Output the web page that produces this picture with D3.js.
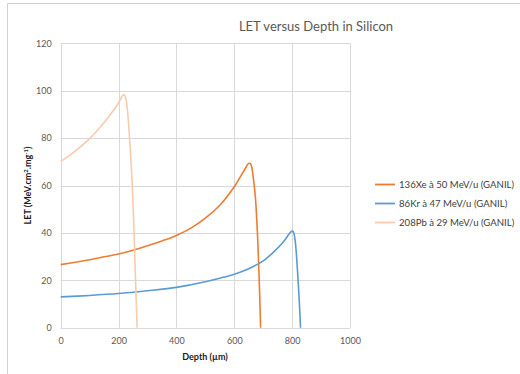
<!DOCTYPE html>
<html>
<head>
<meta charset="utf-8">
<script src="https://cdn.jsdelivr.net/npm/d3@7"></script>
<style>
  html, body { margin: 0; padding: 0; background: #fff; }
  svg { display: block; }
  text { font-family: Lato, "Open Sans", sans-serif; }
</style>
</head>
<body>
<svg id="chart" width="520" height="374"></svg>
<script>
// Depth (µm) and LET (MeV.cm².mg⁻¹) for each ion beam
const xeDepth = [0, 50, 100, 150, 200, 250, 300, 350, 400, 450, 500, 550, 600, 625, 640, 646, 651, 656, 660, 664, 668, 672, 676, 680, 684, 688, 691];
const xeLet   = [26.6, 27.6, 28.7, 29.9, 31.1, 32.7, 34.6, 36.6, 38.9, 42, 46.2, 51.7, 59.5, 64.5, 67.6, 68.9, 69.4, 69.2, 68, 65, 61, 56.5, 49.5, 40, 28, 13, 0];

const krDepth = [0, 100, 200, 300, 400, 450, 500, 550, 600, 650, 700, 740, 770, 790, 797, 801, 805, 809, 812, 815, 818, 822, 826, 829];
const krLet   = [13, 13.6, 14.4, 15.6, 17, 18.1, 19.4, 20.9, 22.6, 24.9, 28.2, 32.4, 36.3, 39.6, 40.6, 40.8, 40.2, 38, 35, 30.5, 25, 17, 8, 0];

const pbDepth = [0, 25, 50, 75, 100, 125, 150, 175, 200, 208, 213, 218, 223, 227, 231, 235, 239, 243, 247, 250, 253, 256, 259, 262, 264];
const pbLet   = [70.2, 72.2, 74.5, 77, 79.8, 83, 86.6, 90.5, 94.8, 96.8, 97.9, 98.3, 97.6, 95.5, 91.5, 85.5, 78, 70, 61, 53, 42, 31, 19, 8, 0];

const seriesNames  = ["136Xe à 50 MeV/u (GANIL)", "86Kr à 47 MeV/u (GANIL)", "208Pb à 29 MeV/u (GANIL)"];
const seriesColors = ["#ED7D31", "#5B9BD5", "#F8CBAD"];

const xTicks = [0, 200, 400, 600, 800, 1000];
const yTicks = [0, 20, 40, 60, 80, 100, 120];

const series = [
  { name: seriesNames[0], color: seriesColors[0], pts: xeDepth.map((d, i) => [d, xeLet[i]]) },
  { name: seriesNames[1], color: seriesColors[1], pts: krDepth.map((d, i) => [d, krLet[i]]) },
  { name: seriesNames[2], color: seriesColors[2], pts: pbDepth.map((d, i) => [d, pbLet[i]]) }
];

const svg = d3.select("#chart");
const plot = { left: 60.7, right: 350, top: 43.3, bottom: 327.7 };

const x = d3.scaleLinear().domain([0, 1000]).range([plot.left, plot.right]);
const y = d3.scaleLinear().domain([0, 120]).range([plot.bottom, plot.top]);

// chart frame (top and left edges)
svg.append("path")
  .attr("d", "M7.5,380 V3.5 H530")
  .attr("fill", "none")
  .attr("stroke", "#d0d0d0")
  .attr("stroke-width", 1);

// title
svg.append("text")
  .attr("x", 316).attr("y", 31)
  .attr("text-anchor", "middle")
  .attr("font-size", 13)
  .attr("fill", "#595959")
  .text("LET versus Depth in Silicon");

// gridlines
const grid = svg.append("g").attr("stroke", "#d9d9d9").attr("stroke-width", 1);
grid.selectAll("line.v").data(xTicks).join("line")
  .attr("x1", d => Math.round(x(d)) + 0.5).attr("x2", d => Math.round(x(d)) + 0.5)
  .attr("y1", plot.top).attr("y2", plot.bottom);
grid.selectAll("line.h").data(yTicks).join("line")
  .attr("x1", plot.left).attr("x2", plot.right)
  .attr("y1", d => Math.round(y(d)) + 0.5).attr("y2", d => Math.round(y(d)) + 0.5);

// axes (labels only, no tick marks)
const xAxis = svg.append("g")
  .attr("transform", `translate(0,${plot.bottom + 6})`)
  .call(d3.axisBottom(x).tickValues(xTicks).tickFormat(d3.format("d")).tickSize(0).tickPadding(4));
xAxis.select(".domain").remove();
xAxis.selectAll("text").attr("font-size", 9).attr("fill", "#595959").attr("font-family", "Lato, sans-serif");

const yAxis = svg.append("g")
  .attr("transform", `translate(${plot.left - 7},0)`)
  .call(d3.axisLeft(y).tickValues(yTicks).tickFormat(d3.format("d")).tickSize(0).tickPadding(2));
yAxis.select(".domain").remove();
yAxis.selectAll("text").attr("font-size", 9).attr("fill", "#595959").attr("font-family", "Lato, sans-serif");

// axis titles
svg.append("text")
  .attr("x", 205).attr("y", 359.5)
  .attr("text-anchor", "middle")
  .attr("font-size", 9).attr("font-weight", "bold").attr("fill", "#1a1a1a")
  .text("Depth (µm)");

const yTitle = svg.append("text")
  .attr("transform", `translate(31,${(plot.top + plot.bottom) / 2}) rotate(-90)`)
  .attr("text-anchor", "middle")
  .attr("font-size", 9).attr("font-weight", "bold").attr("fill", "#1a1a1a");
yTitle.append("tspan").text("LET (MeV.cm");
yTitle.append("tspan").attr("baseline-shift", "super").attr("font-size", 6).text("2");
yTitle.append("tspan").text(".mg");
yTitle.append("tspan").attr("baseline-shift", "super").attr("font-size", 6).text("-1");
yTitle.append("tspan").text(")");

// curves
const line = d3.line()
  .x(d => x(d[0]))
  .y(d => y(d[1]))
  .curve(d3.curveCatmullRom.alpha(0.5));

svg.append("g").selectAll("path").data(series).join("path")
  .attr("d", d => line(d.pts))
  .attr("fill", "none")
  .attr("stroke", d => d.color)
  .attr("stroke-width", 1.6)
  .attr("stroke-linejoin", "round");

// legend
const legend = svg.append("g").selectAll("g").data(series).join("g")
  .attr("transform", (d, i) => `translate(375,${184.5 + i * 19})`);
legend.append("line")
  .attr("x1", 0).attr("x2", 20).attr("y1", 0).attr("y2", 0)
  .attr("stroke", d => d.color).attr("stroke-width", 1.8);
legend.append("text")
  .attr("x", 24).attr("y", 3.3)
  .attr("font-size", 9.6).attr("fill", "#404040")
  .text(d => d.name);
</script>
</body>
</html>
